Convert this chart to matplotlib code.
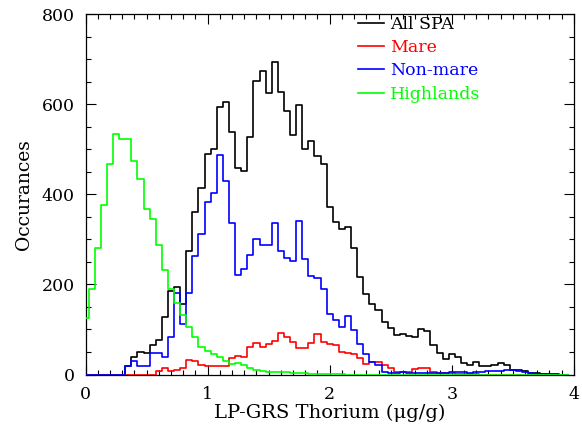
import matplotlib
matplotlib.use("Agg")
import matplotlib.pyplot as plt
from matplotlib.ticker import MultipleLocator
import numpy as np

# bin centres, 0.05 wide
thorium = np.arange(80) * 0.05

all_spa = [0, 0, 0, 0, 0, 0, 0, 18, 38, 50,
           47, 65, 76, 128, 185, 195, 156, 275, 361, 414,
           489, 500, 595, 604, 539, 458, 451, 527, 651, 674,
           625, 693, 627, 584, 531, 598, 500, 518, 485, 468,
           373, 338, 324, 328, 281, 216, 179, 157, 143, 117,
           104, 87, 89, 85, 84, 100, 97, 65, 47, 34,
           45, 39, 25, 21, 28, 19, 19, 22, 25, 21,
           11, 10, 8, 4, 3, 2, 1, 1, 0, 0]

mare = [0, 0, 0, 0, 0, 0, 0, 0, 0, 0,
        0, 0, 7, 14, 7, 11, 14, 33, 30, 22,
        18, 18, 18, 20, 36, 41, 38, 61, 70, 61,
        67, 75, 92, 84, 72, 60, 59, 69, 90, 72,
        67, 65, 50, 48, 45, 36, 24, 27, 28, 22,
        15, 6, 5, 5, 13, 14, 14, 6, 4, 3,
        3, 2, 2, 1, 1, 0, 0, 0, 0, 0,
        0, 0, 0, 0, 0, 0, 0, 0, 0, 0]

non_mare = [0, 0, 0, 0, 0, 0, 0, 18, 29, 18,
            18, 47, 47, 40, 84, 181, 112, 181, 264, 313,
            382, 402, 487, 430, 337, 220, 234, 266, 302, 288,
            288, 336, 274, 259, 253, 340, 257, 218, 214, 190,
            134, 120, 105, 129, 98, 67, 46, 28, 22, 6,
            3, 3, 5, 4, 4, 3, 3, 4, 3, 3,
            6, 5, 5, 4, 5, 6, 7, 7, 8, 10,
            9, 7, 5, 3, 2, 1, 0, 0, 0, 0]

highlands = [125, 189, 282, 377, 467, 534, 523, 523, 474, 433,
             368, 346, 288, 231, 190, 158, 132, 105, 83, 62,
             52, 45, 38, 29, 24, 25, 21, 14, 11, 8,
             6, 6, 5, 5, 4, 3, 3, 2, 2, 2,
             1, 1, 1, 0, 0, 0, 0, 0, 0, 0,
             0, 0, 0, 0, 0, 0, 0, 0, 0, 0,
             0, 0, 0, 0, 0, 0, 0, 0, 0, 0,
             0, 0, 0, 0, 0, 0, 0, 0, 0, 0]

plt.rcParams['font.family'] = 'DejaVu Serif'

fig = plt.figure(figsize=(5.82, 4.30), dpi=100)
ax = fig.add_axes([0.147, 0.129, 0.839, 0.838])

ax.step(thorium, all_spa, where='mid', color='black', lw=1.2, label='All SPA', zorder=3)
ax.step(thorium, mare, where='mid', color='#ff0000', lw=1.2, label='Mare', zorder=3)
ax.step(thorium, non_mare, where='mid', color='#0000ff', lw=1.2, label='Non-mare', zorder=3)
ax.step(thorium, highlands, where='mid', color='#00ff00', lw=1.2, label='Highlands', zorder=3)

ax.set_xlim(0, 4)
ax.set_ylim(0, 800)
ax.xaxis.set_major_locator(MultipleLocator(1))
ax.xaxis.set_minor_locator(MultipleLocator(0.1))
ax.yaxis.set_major_locator(MultipleLocator(200))
ax.yaxis.set_minor_locator(MultipleLocator(50))
ax.tick_params(which='both', direction='in', top=True, right=True, labelsize=12.5, width=0.8)
ax.tick_params(which='major', length=7, pad=8)
ax.tick_params(which='minor', length=3.5)
for s in ax.spines.values():
    s.set_linewidth(0.9)

ax.set_xlabel('LP-GRS Thorium (μg/g)', fontsize=14, labelpad=1)
ax.set_ylabel('Occurances', fontsize=13.5, labelpad=6)

ax.legend(loc='upper left', bbox_to_anchor=(0.551, 1.005), frameon=False,
          fontsize=12.5, handlelength=1.5, handletextpad=0.35,
          labelspacing=0.36, borderaxespad=0, borderpad=0.2,
          labelcolor='linecolor')

fig.savefig('out.png', dpi=100)
